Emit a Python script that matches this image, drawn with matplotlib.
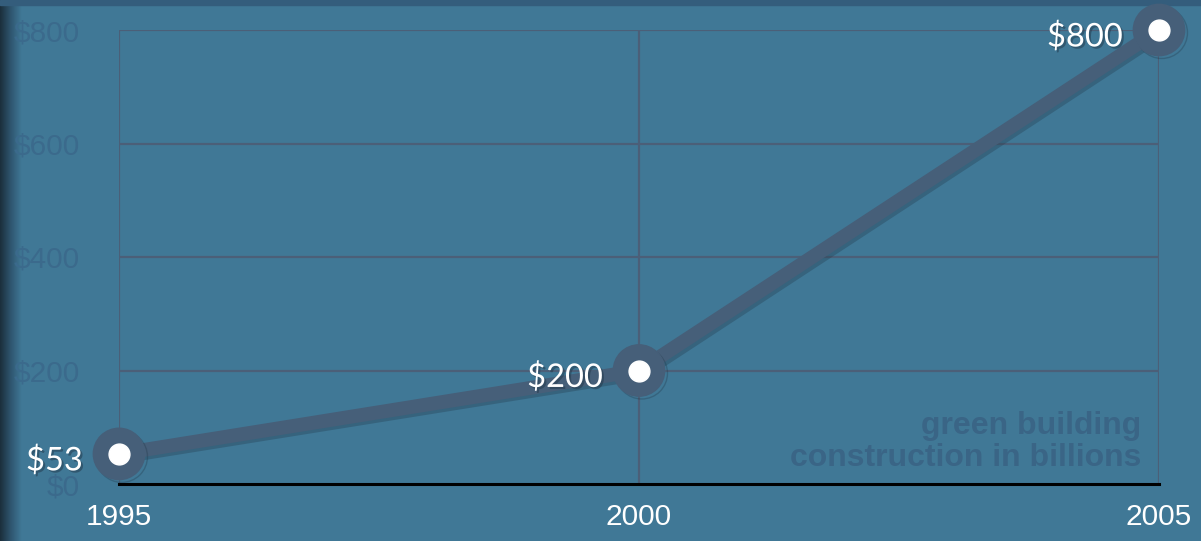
import matplotlib
matplotlib.use("Agg")
import matplotlib.pyplot as plt
import matplotlib.patheffects as pe
import numpy as np
from matplotlib.colors import LinearSegmentedColormap

years = [1995, 2000, 2005]
values = [53, 200, 800]
value_labels = ["$53", "$200", "$800"]
yticks = [0, 200, 400, 600, 800]
ytick_labels = ["$0", "$200", "$400", "$600", "$800"]
xtick_labels = ["1995", "2000", "2005"]

BG = "#407896"
W, H = 1201, 541
fig = plt.figure(figsize=(W / 100, H / 100), dpi=100, facecolor=BG)

# background decorations: left shadow and top strip
bgax = fig.add_axes([0, 0, 1, 1], zorder=-10)
bgax.set_xlim(0, W)
bgax.set_ylim(H, 0)
bgax.axis("off")
grad = np.linspace(0, 1, 40)[None, :]
cm = LinearSegmentedColormap.from_list("sh", ["#1b2f3c", "#2f5670", BG])
bgax.imshow(np.repeat(grad, 2, axis=0), extent=[0, 22, H, 0], cmap=cm, aspect="auto")
bgax.add_patch(plt.Rectangle((0, 0), W, 5, color="#345d7c", zorder=5))

left, right = 119 / W, 1159 / W
bottom, top = (H - 484) / H, (H - 30) / H
ax = fig.add_axes([left, bottom, right - left, top - bottom])
ax.set_facecolor("none")
ax.set_xlim(1995, 2005)
ax.set_ylim(0, 800)

grid_c = "#4b5f78"
for y in yticks[1:]:
    ax.axhline(y, color=grid_c, lw=1.6, zorder=1)
for x in years:
    ax.axvline(x, color=grid_c, lw=1.6, zorder=1)
for s in ["top", "right", "left"]:
    ax.spines[s].set_visible(False)
ax.spines["bottom"].set_color("black")
ax.spines["bottom"].set_linewidth(2.2)
ax.spines["bottom"].set_zorder(2)

ax.set_yticks(yticks)
ax.set_yticklabels(ytick_labels, fontfamily="Liberation Sans", fontsize=21.5, color="#3b6a8c")
ax.set_xticks(years)
ax.set_xticklabels(xtick_labels, fontfamily="Liberation Sans", fontsize=21.5, color="white")
ax.tick_params(axis="both", length=0)
ax.tick_params(axis="y", pad=28)
ax.tick_params(axis="x", pad=14)
for lab in ax.get_yticklabels():
    lab.set_ha("right")

line_c = "#465f79"
shadow = [pe.SimpleLineShadow(offset=(2, -2), shadow_color="#1f3445", alpha=0.3), pe.Normal()]
ax.plot(years, values, color=line_c, lw=10, solid_capstyle="round", zorder=3,
        path_effects=shadow, clip_on=False)
ax.plot(years, values, "o", color=line_c, markersize=37, zorder=4, clip_on=False,
        path_effects=shadow)
ax.plot(years, values, "o", color="white", markersize=15, zorder=5, clip_on=False)

for x, v, lab in zip(years, values, value_labels):
    t = ax.annotate(lab, (x, v), xytext=(-26, -5), textcoords="offset points",
                    ha="right", va="center", fontsize=23.5, color="white",
                    fontfamily="Lato", zorder=6)
    t.set_path_effects([pe.SimplePatchShadow(offset=(1.5, -1.5), shadow_rgbFace="#22384a", alpha=0.5),
                        pe.Normal()])

ax.text(0.983, 0.025, "green building\nconstruction in billions", transform=ax.transAxes,
        ha="right", va="bottom", fontsize=23, fontweight="bold", color="#3a6586",
        fontfamily="Liberation Sans", linespacing=1.08, zorder=2)

fig.savefig("out.png", dpi=100, facecolor=BG)
